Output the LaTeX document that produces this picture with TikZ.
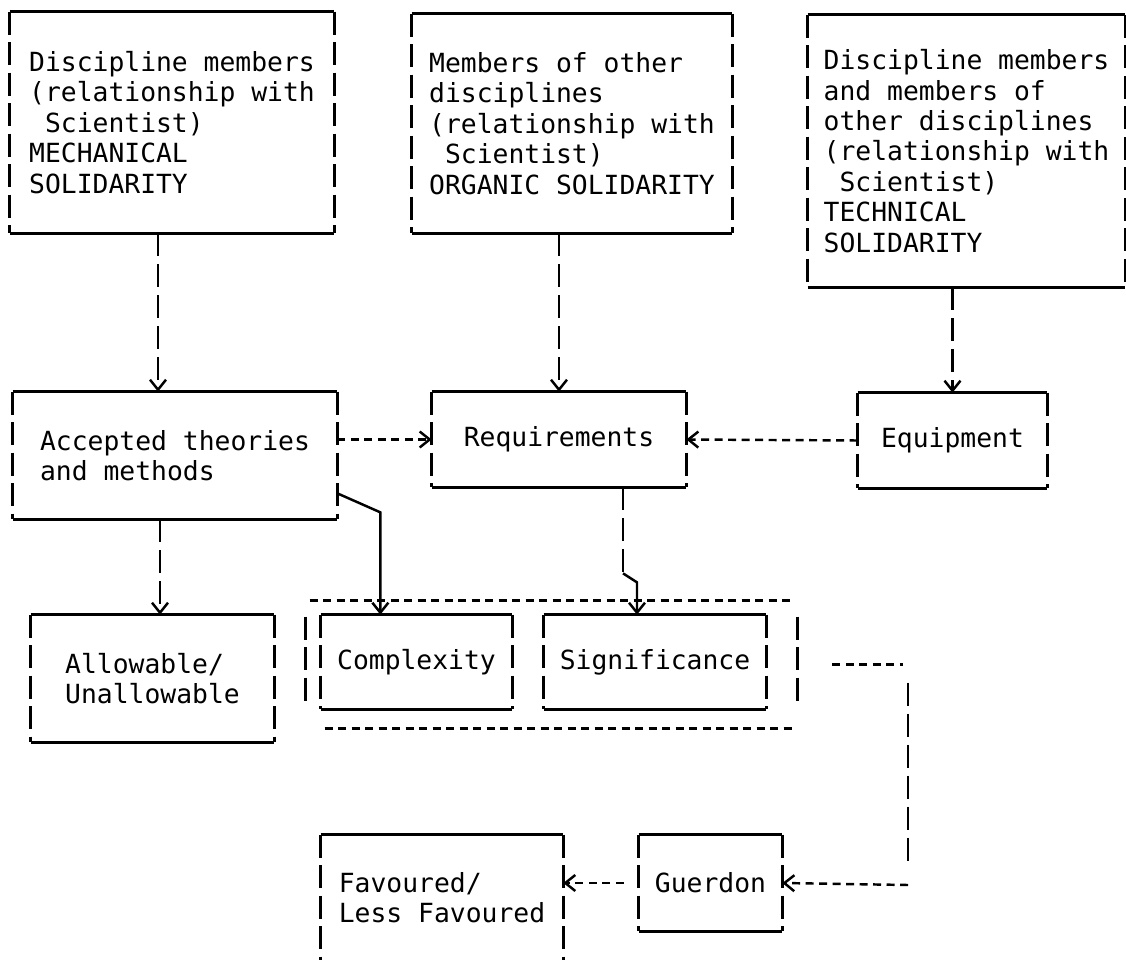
\documentclass[tikz,border=0pt]{standalone}
\usepackage{fontspec}
\usetikzlibrary{arrows.meta}
\newfontfamily\typefont{DejaVu Sans Mono}
\tikzset{
  box/.style={inner sep=0pt, align=left, font=\typefont\fontsize{15}{17.3}\selectfont},
  rule/.style={line width=1.4pt},
  side/.style={line width=1.4pt, dash pattern=on 0.46cm off 0.15cm},
  hlink/.style={line width=1.4pt, dash pattern=on 0.16cm off 0.11cm},
  vlink/.style={line width=1.4pt, dash pattern=on 0.46cm off 0.16cm},
  tip/.style={-{Straight Barb[length=0.2cm,width=0.32cm]}}
}
\begin{document}
\begin{tikzpicture}
    \useasboundingbox (0,0) rectangle (22.52,-19.2);
    % three kinds of solidarity
    \node[box, minimum width=6.48cm, minimum height=4.42cm] (mech) at (3.44,-2.45)
      {Discipline members\\(relationship with\\\phantom{S}Scientist)\\MECHANICAL\\SOLIDARITY};
    \node[box, minimum width=6.4cm, minimum height=4.38cm] (org) at (11.44,-2.47)
      {Members of other\\disciplines\\(relationship with\\\phantom{S}Scientist)\\ORGANIC SOLIDARITY};
    \node[box, minimum width=6.34cm, minimum height=5.44cm] (tech) at (19.33,-3.02)
      {Discipline members\\and members of\\other disciplines\\(relationship with\\\phantom{S}Scientist)\\TECHNICAL\\SOLIDARITY};

    % middle row
    \node[box, minimum width=6.48cm, minimum height=2.54cm] (acc) at (3.5,-9.11) {Accepted theories\\and methods};
    \node[box, minimum width=5.08cm, minimum height=1.9cm] (req) at (11.18,-8.79) {Requirements};
    \node[box, minimum width=3.78cm, minimum height=1.9cm] (equip) at (19.05,-8.81) {Equipment};

    % lower rows
    \node[box, minimum width=4.86cm, minimum height=2.54cm] (allow) at (3.05,-13.57) {Allowable/\\Unallowable};
    \node[box, minimum width=3.82cm, minimum height=1.88cm] (cplx) at (8.33,-13.24) {Complexity};
    \node[box, minimum width=4.44cm, minimum height=1.88cm] (sig) at (13.1,-13.24) {Significance};
    \node[minimum width=9.82cm, minimum height=2.54cm, inner sep=0pt] (grp) at (11.03,-13.29) {};
    \node[box, minimum width=2.86cm, minimum height=1.92cm] (guer) at (14.21,-17.66) {Guerdon};
    \node[box, minimum width=4.84cm, minimum height=2.5cm] (fav) at (8.84,-17.95) {Favoured/\\Less Favoured};

    % typed box outlines
    \foreach \b in {mech,org,tech,acc,req,equip,allow,cplx,sig,guer}{
      \draw[rule] (\b.north west) -- (\b.north east) (\b.south west) -- (\b.south east);
      \draw[side] (\b.north west) -- (\b.south west) (\b.north east) -- (\b.south east);
    }
    \draw[rule] (fav.north west) -- (fav.north east);
    \draw[side] (fav.north west) -- (fav.south west) (fav.north east) -- (fav.south east);
    \draw[hlink] ([xshift=0.08cm]grp.north west) -- ([xshift=-0.08cm]grp.north east);
    \draw[hlink] ([xshift=0.38cm]grp.south west) -- ([xshift=-0.08cm]grp.south east);
    \draw[side] ([yshift=-0.32cm]grp.north west) -- ([yshift=0.46cm]grp.south west);
    \draw[side] ([yshift=-0.32cm]grp.north east) -- ([yshift=0.46cm]grp.south east);

    % links
    \draw[vlink, tip] ([xshift=-0.34cm]acc.north |- mech.south) -- ([xshift=-0.34cm]acc.north);
    \draw[vlink, tip] (req.north |- org.south) -- (req.north);
    \draw[vlink, tip] (equip.north |- tech.south) -- (equip.north);
    \draw[hlink, tip] (acc.east |- req.west) -- (req.west);
    \draw[hlink, tip] (equip.west) -- (req.east);
    \draw[vlink, tip] ([xshift=0.15cm]allow.north |- acc.south) -- ([xshift=0.15cm]allow.north);
    \draw[rule, tip] ([yshift=0.52cm]acc.south east) -- ++(0.86,-0.38) coordinate (bend) -- (bend |- cplx.north);
    \draw[vlink] ([xshift=1.28cm]req.south) -- ++(0,-1.72) coordinate (kink);
    \draw[rule, tip] (kink) -- ++(0.28,-0.18) coordinate (kink2) -- (kink2 |- sig.north);
    \coordinate (turn) at (18.16,-17.7);
    \draw[hlink] ([xshift=0.7cm]grp.east) -- ([xshift=-0.1cm]grp.east -| turn);
    \draw[vlink] ([yshift=-0.36cm]grp.east -| turn) -- ([yshift=0.46cm]turn);
    \draw[hlink, tip] (turn) -- (guer.east);
    \draw[hlink, tip] ([xshift=-0.3cm]guer.west) -- (fav.east |- guer.west);
\end{tikzpicture}
\end{document}
